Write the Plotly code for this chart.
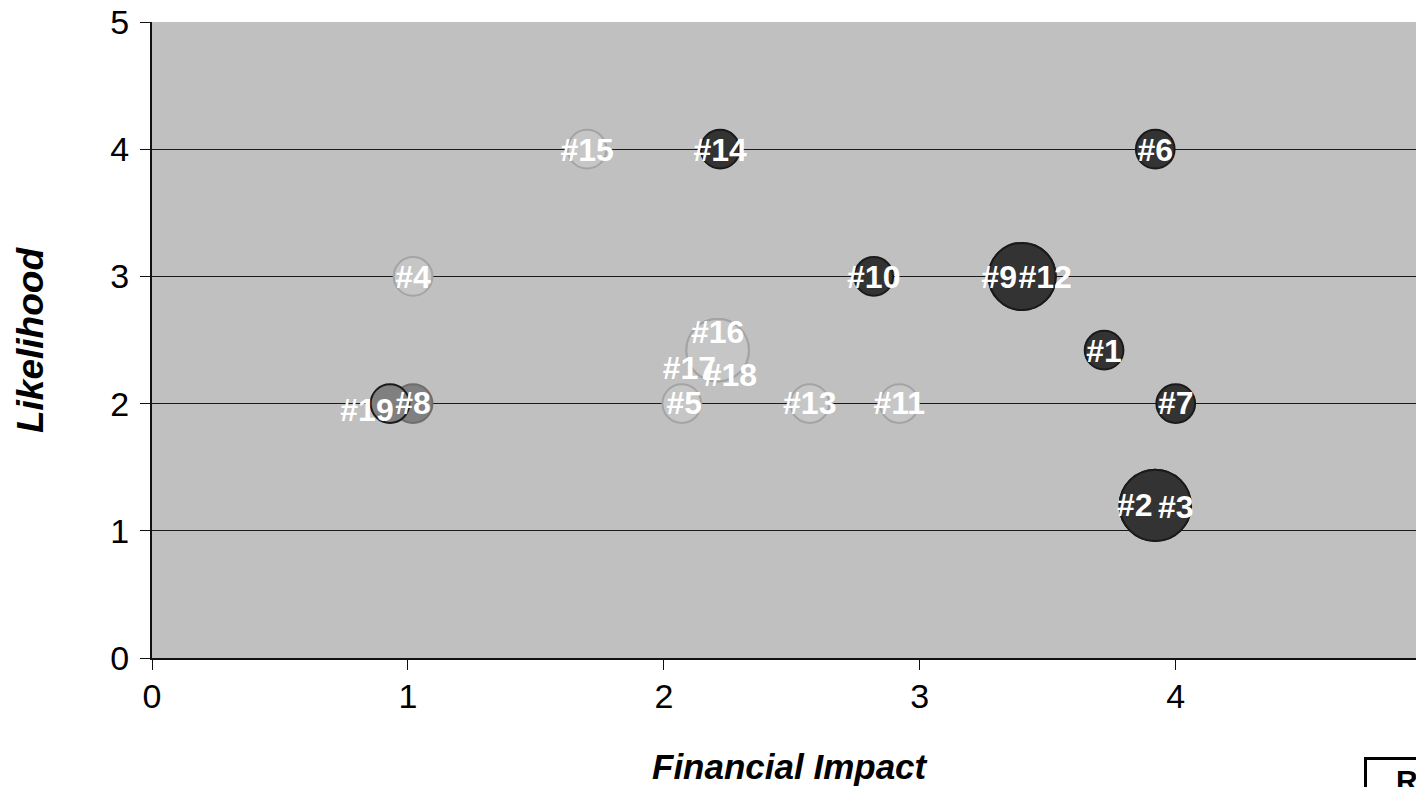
import plotly.graph_objects as go

# ---- data ----
risk_ids = ["#1", "#2", "#3", "#4", "#5", "#6", "#7", "#8", "#9", "#10",
            "#11", "#12", "#13", "#14", "#15", "#16", "#17", "#18", "#19"]
financial_impact = [3.72, 3.92, 3.92, 1.02, 2.07, 3.92, 4.00, 1.02, 3.40, 2.82,
                    2.92, 3.40, 2.57, 2.22, 1.70, 2.21, 2.21, 2.21, 0.93]
likelihood = [2.42, 1.20, 1.20, 3.00, 2.00, 4.00, 2.00, 2.00, 3.00, 3.00,
              2.00, 3.00, 2.00, 4.00, 4.00, 2.42, 2.42, 2.42, 2.00]
bubble_value = [1.0, 3.4, 3.4, 1.0, 1.0, 1.0, 1.0, 1.0, 3.0, 1.0,
                1.0, 3.0, 1.0, 1.0, 1.0, 2.6, 2.6, 2.6, 1.0]
rating = ["high", "high", "high", "low", "low", "high", "high", "medium", "high", "high",
          "low", "high", "low", "high", "low", "low", "low", "low", "medium_edge"]

# label anchor positions (data units)
label_x = [3.72, 3.84, 4.00, 1.02, 2.08, 3.92, 4.00, 1.02, 3.31, 2.82,
           2.92, 3.49, 2.57, 2.22, 1.70, 2.21, 2.10, 2.26, 0.84]
label_y = [2.39, 1.18, 1.16, 2.97, 1.98, 3.97, 1.98, 1.98, 2.97, 2.97,
           1.98, 2.97, 1.98, 3.97, 3.97, 2.54, 2.26, 2.20, 1.93]

x_ticks = [0, 1, 2, 3, 4]
y_ticks = [0, 1, 2, 3, 4, 5]

fill_map = {"high": "#333333", "medium": "#808080", "medium_edge": "#808080", "low": "#c6c6c6"}
line_map = {"high": "#1a1a1a", "medium": "#6e6e6e", "medium_edge": "#1a1a1a", "low": "#a4a4a4"}

FONT = "Liberation Sans, Arial, sans-serif"

fig = go.Figure()

fig.add_trace(go.Scatter(
    x=financial_impact, y=likelihood, mode="markers",
    marker=dict(
        size=bubble_value, sizemode="area", sizeref=1 / 749.0,
        color=[fill_map[r] for r in rating],
        line=dict(color=[line_map[r] for r in rating], width=2),
        opacity=1,
    ),
    hovertext=risk_ids, showlegend=False,
))

fig.add_trace(go.Scatter(
    x=label_x, y=label_y, mode="text", text=risk_ids,
    textposition="middle center",
    textfont=dict(family=FONT, size=32, color="white", weight="bold"),
    showlegend=False, hoverinfo="skip",
))

fig.update_layout(
    width=1416, height=779,
    margin=dict(l=144, r=0, t=14, b=129),
    paper_bgcolor="white", plot_bgcolor="#c0c0c0",
    xaxis=dict(
        range=[0, 4.97], tickmode="array", tickvals=x_ticks,
        ticktext=[str(v) for v in x_ticks],
        showgrid=False, zeroline=False, automargin=False,
        showline=True, linecolor="#111111", linewidth=2,
        ticks="outside", ticklen=10, tickcolor="#111111", tickwidth=1,
        ticklabelstandoff=-3,
        tickfont=dict(family=FONT, size=34, color="black"),
    ),
    yaxis=dict(
        range=[0, 5], tickmode="array", tickvals=y_ticks,
        ticktext=[str(v) for v in y_ticks],
        showgrid=True, gridcolor="#1a1a1a", gridwidth=1, zeroline=False,
        automargin=False,
        showline=True, linecolor="#111111", linewidth=2,
        ticks="outside", ticklen=10, tickcolor="#111111", tickwidth=1,
        ticklabelstandoff=4, ticklabeloverflow="allow",
        tickfont=dict(family=FONT, size=34, color="black"),
    ),
    annotations=[
        dict(text="<b><i>Financial Impact</i></b>", xref="paper", yref="paper",
             x=0.5016, y=-0.171, xanchor="center", yanchor="middle", showarrow=False,
             font=dict(family=FONT, size=35, color="black")),
        dict(text="<b><i>Likelihood</i></b>", xref="paper", yref="paper",
             x=-0.0959, y=0.5, xanchor="center", yanchor="middle", showarrow=False,
             textangle=-90,
             font=dict(family=FONT, size=37, color="black")),
        dict(text="<b>\u00a0\u00a0\u00a0Risk Rating</b>", xref="paper", yref="paper",
             x=0.953, y=-0.156, xanchor="left", yanchor="top", showarrow=False,
             bordercolor="black", borderwidth=3, borderpad=4, bgcolor="white",
             font=dict(family=FONT, size=30, color="black")),
    ],
)

fig.write_html("out.html")
